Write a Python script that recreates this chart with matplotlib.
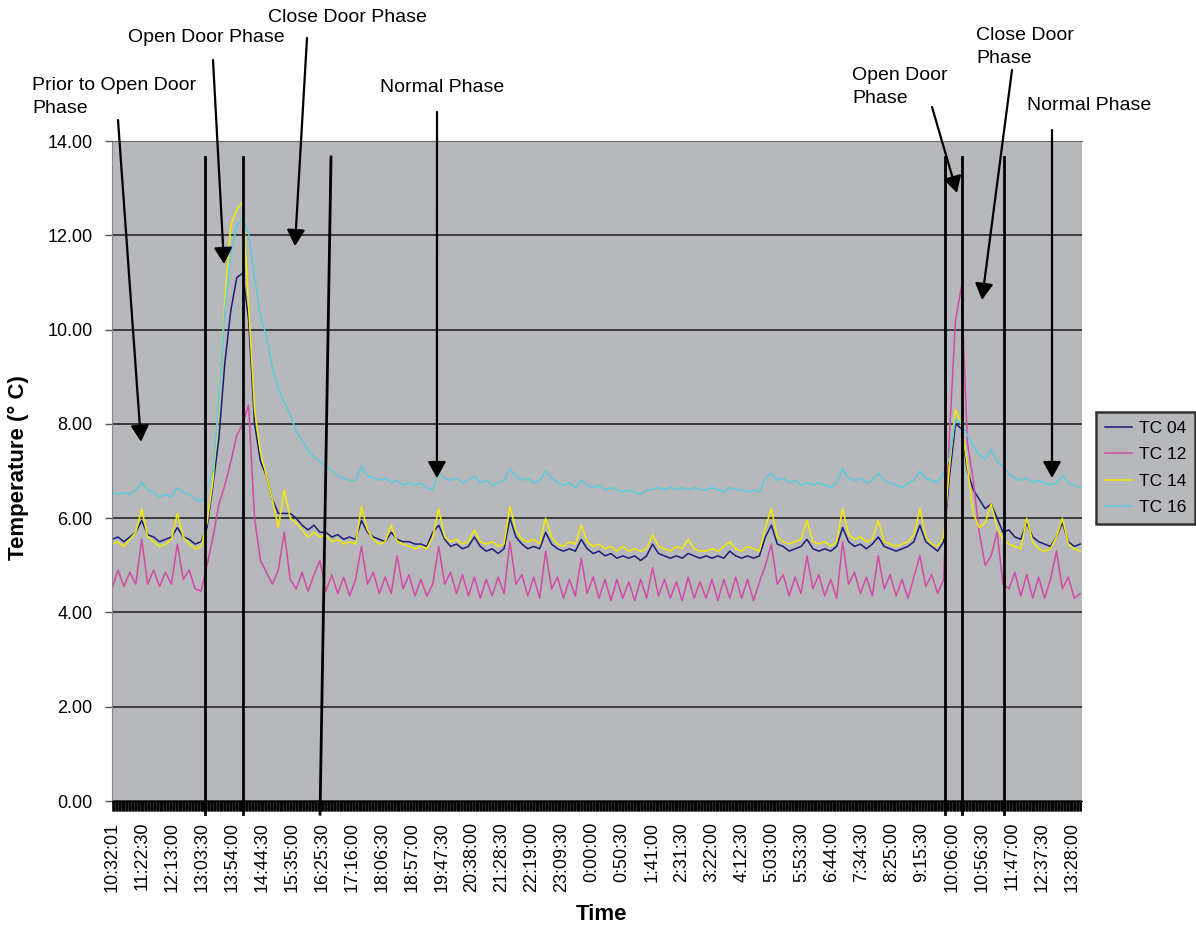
import numpy as np
import matplotlib.pyplot as plt
from matplotlib.ticker import MultipleLocator

plt.rcParams['font.family'] = ['Liberation Sans', 'DejaVu Sans']

# Data: temperature (deg C), one reading every 10 minutes from 10:32:01
step_min = 10

tc04 = [5.55, 5.6, 5.5, 5.6, 5.7, 5.95, 5.65, 5.6, 5.5, 5.55, 5.6, 5.8, 5.6, 5.55, 5.45, 5.5,
        5.8, 6.7, 7.7, 9.3, 10.4, 11.1, 11.2, 10.2, 8.0, 7.2, 6.9, 6.4, 6.1, 6.1, 6.1,
        6.0, 5.85, 5.75, 5.85, 5.7, 5.7, 5.6, 5.65, 5.55, 5.6, 5.55, 5.95, 5.7, 5.6, 5.55, 5.5,
        5.7, 5.55, 5.5, 5.5, 5.45, 5.45, 5.4, 5.7, 5.85,
        5.55, 5.4, 5.45, 5.35, 5.4, 5.6, 5.4, 5.3, 5.35, 5.25, 5.35, 6.0, 5.6, 5.45, 5.35, 5.4,
        5.35, 5.7, 5.45, 5.35, 5.3, 5.35, 5.3, 5.55, 5.35, 5.25, 5.3, 5.2, 5.25, 5.15, 5.2, 5.15,
        5.2, 5.1, 5.2, 5.45, 5.25, 5.2, 5.15, 5.2, 5.15, 5.25, 5.2, 5.15,
        5.2, 5.15, 5.2, 5.15, 5.3, 5.2, 5.15, 5.2, 5.15, 5.2, 5.6, 5.85, 5.45, 5.4, 5.3, 5.35,
        5.4, 5.55, 5.35, 5.3, 5.35, 5.3, 5.4, 5.8, 5.5, 5.4, 5.45, 5.35, 5.45, 5.6, 5.4, 5.35,
        5.3, 5.35, 5.4, 5.5, 5.85, 5.5, 5.4, 5.3,
        5.5, 6.9, 8.0, 7.9, 7.0, 6.6, 6.4, 6.2, 6.3, 6.0, 5.7, 5.75, 5.6, 5.55, 5.9, 5.6,
        5.5, 5.45, 5.4, 5.6, 5.9, 5.5, 5.4, 5.45]

tc12 = [4.5, 4.9, 4.55, 4.85, 4.6, 5.55, 4.6, 4.9, 4.55, 4.85, 4.6, 5.45, 4.7, 4.9, 4.5, 4.45,
        5.0, 5.6, 6.3, 6.7, 7.2, 7.75, 8.0, 8.4, 6.0, 5.1, 4.85, 4.6, 4.9, 5.7, 4.7,
        4.5, 4.85, 4.45, 4.8, 5.1, 4.45, 4.8, 4.4, 4.75, 4.35, 4.7, 5.4, 4.6, 4.85, 4.4, 4.75,
        4.4, 5.2, 4.5, 4.8, 4.35, 4.7, 4.35, 4.6, 5.4,
        4.6, 4.85, 4.4, 4.8, 4.35, 4.75, 4.3, 4.7, 4.35, 4.75, 4.4, 5.5, 4.6, 4.8, 4.35, 4.75,
        4.3, 5.3, 4.5, 4.75, 4.3, 4.7, 4.35, 5.15, 4.4, 4.75, 4.3, 4.7, 4.25, 4.7, 4.3, 4.65,
        4.25, 4.7, 4.3, 4.95, 4.35, 4.7, 4.3, 4.65, 4.25, 4.75, 4.3, 4.65,
        4.3, 4.7, 4.25, 4.7, 4.3, 4.75, 4.3, 4.7, 4.25, 4.65, 5.0, 5.45, 4.6, 4.8, 4.35, 4.75,
        4.4, 5.2, 4.5, 4.8, 4.35, 4.7, 4.3, 5.5, 4.6, 4.85, 4.4, 4.75, 4.35, 5.2, 4.5, 4.8,
        4.35, 4.7, 4.3, 4.75, 5.2, 4.55, 4.8, 4.4,
        4.7, 7.8, 10.2, 10.9, 7.6, 6.8, 5.7, 5.0, 5.2, 5.7, 4.6, 4.5, 4.85, 4.35, 4.8, 4.3,
        4.75, 4.3, 4.7, 5.3, 4.5, 4.75, 4.3, 4.4]

tc14 = [5.45, 5.5, 5.4, 5.55, 5.7, 6.2, 5.6, 5.5, 5.4, 5.45, 5.55, 6.1, 5.6, 5.45, 5.35, 5.4,
        5.9, 6.8, 8.4, 10.6, 12.2, 12.55, 12.7, 10.5, 8.3, 7.4, 6.9, 6.4, 5.8, 6.6, 6.0,
        5.9, 5.75, 5.6, 5.7, 5.6, 5.65, 5.5, 5.55, 5.45, 5.5, 5.45, 6.25, 5.75, 5.55, 5.45, 5.5,
        5.85, 5.5, 5.45, 5.4, 5.35, 5.4, 5.35, 5.6, 6.2,
        5.6, 5.5, 5.55, 5.45, 5.5, 5.75, 5.5, 5.45, 5.5, 5.4, 5.45, 6.25, 5.75, 5.55, 5.5, 5.55,
        5.45, 6.0, 5.6, 5.45, 5.4, 5.5, 5.45, 5.85, 5.5, 5.4, 5.45, 5.35, 5.4, 5.3, 5.4, 5.3,
        5.35, 5.3, 5.35, 5.65, 5.4, 5.35, 5.3, 5.4, 5.35, 5.55, 5.35, 5.3,
        5.3, 5.35, 5.3, 5.4, 5.5, 5.35, 5.3, 5.4, 5.35, 5.3, 5.8, 6.2, 5.6, 5.5, 5.45, 5.5,
        5.55, 5.95, 5.5, 5.45, 5.5, 5.4, 5.5, 6.2, 5.65, 5.55, 5.6, 5.5, 5.55, 5.95, 5.5, 5.45,
        5.4, 5.45, 5.5, 5.65, 6.2, 5.6, 5.45, 5.4,
        5.6, 7.1, 8.3, 8.0, 7.1, 6.1, 5.8, 5.9, 6.3, 5.8, 5.55, 5.45, 5.4, 5.35, 6.0, 5.5,
        5.35, 5.3, 5.35, 5.6, 6.0, 5.45, 5.35, 5.3]

tc16 = [6.55, 6.5, 6.55, 6.5, 6.6, 6.75, 6.6, 6.55, 6.45, 6.5, 6.45, 6.65, 6.55, 6.5, 6.4, 6.35,
        6.6, 7.0, 8.5, 10.4, 11.6, 12.2, 12.35, 12.05, 11.1, 10.3, 9.85, 9.2, 8.75, 8.45, 8.2,
        7.85, 7.65, 7.45, 7.3, 7.2, 7.1, 7.0, 6.9, 6.85, 6.8, 6.8, 7.1, 6.9, 6.85, 6.8, 6.85,
        6.75, 6.8, 6.7, 6.75, 6.7, 6.75, 6.65, 6.6, 6.95,
        6.85, 6.8, 6.85, 6.75, 6.8, 6.9, 6.75, 6.8, 6.7, 6.75, 6.8, 7.05, 6.9, 6.8, 6.85, 6.75,
        6.8, 7.0, 6.85, 6.75, 6.7, 6.75, 6.65, 6.8, 6.7, 6.65, 6.7, 6.6, 6.65, 6.6, 6.55, 6.6,
        6.55, 6.5, 6.6, 6.6, 6.65, 6.6, 6.65, 6.6, 6.65, 6.6, 6.65, 6.6,
        6.6, 6.65, 6.6, 6.55, 6.65, 6.6, 6.6, 6.55, 6.6, 6.55, 6.85, 6.95, 6.8, 6.85, 6.75, 6.8,
        6.7, 6.75, 6.7, 6.75, 6.7, 6.65, 6.75, 7.05, 6.85, 6.8, 6.85, 6.75, 6.8, 6.95, 6.8, 6.75,
        6.7, 6.65, 6.75, 6.8, 7.0, 6.85, 6.8, 6.75,
        6.95, 7.3, 8.1, 8.0, 7.75, 7.55, 7.35, 7.25, 7.45, 7.2, 7.1, 6.95, 6.85, 6.8, 6.85, 6.75,
        6.8, 6.75, 6.7, 6.75, 6.9, 6.75, 6.7, 6.65]

series_names = ['TC 04', 'TC 12', 'TC 14', 'TC 16']
series_colors = ['#1c1c7a', '#d24aa6', '#f2ea00', '#5ccbe0']

tick_labels = ['10:32:01', '11:22:30', '12:13:00', '13:03:30', '13:54:00', '14:44:30',
               '15:35:00', '16:25:30', '17:16:00', '18:06:30', '18:57:00', '19:47:30',
               '20:38:00', '21:28:30', '22:19:00', '23:09:30', '0:00:00', '0:50:30',
               '1:41:00', '2:31:30', '3:22:00', '4:12:30', '5:03:00', '5:53:30',
               '6:44:00', '7:34:30', '8:25:00', '9:15:30', '10:06:00', '10:56:30',
               '11:47:00', '12:37:30', '13:28:00']
tick_every = 50.5  # minutes between labelled categories

# phase divider lines (minutes from start), top / bottom ends
phase_top = [156.6, 220.5, 368.7, 1402.4, 1431.0, 1501.7]
phase_bottom = [156.6, 220.5, 350.2, 1402.4, 1431.0, 1501.7]

# annotations: text, text anchor (figure px from top-left), arrow tail (px), arrow head (data)
notes = [
    ('Prior to Open Door\nPhase', (32, 97), (118, 120), (48.8, 7.62)),
    ('Open Door Phase', (128, 37), (213, 60), (188.6, 11.39)),
    ('Close Door Phase', (268, 17), (307, 38), (308.0, 11.77)),
    ('Normal Phase', (380, 87), (437, 112), (547.0, 6.85)),
    ('Open Door\nPhase', (852, 87), (932, 107), (1422.6, 12.9)),
    ('Close Door\nPhase', (976, 47), (1012, 70), (1464.6, 10.63)),
    ('Normal Phase', (1027, 105), (1052, 130), (1582.5, 6.85)),
]

W, H = 1196, 926
fig = plt.figure(figsize=(W / 100, H / 100), dpi=100)
ax = fig.add_axes([112 / W, 1 - 801 / H, (1082 - 112) / W, (801 - 141) / H])
ax.set_facecolor('#b6b8bb')

for vals, name, col in zip([tc04, tc12, tc14, tc16], series_names, series_colors):
    t = np.arange(len(vals)) * step_min
    ax.plot(t, vals, color=col, lw=1.1, label=name)

ax.set_xlim(0, (1082 - 112) / 0.594)
ax.set_ylim(0, 14)
ax.set_yticks(np.arange(0, 14.01, 2))
ax.set_yticklabels(['%.2f' % v for v in np.arange(0, 14.01, 2)], fontsize=13)
ax.yaxis.grid(True, color='#1a1a1a', lw=1.1)
ax.set_axisbelow(True)

ax.set_xticks(np.arange(len(tick_labels)) * tick_every)
ax.set_xticklabels(tick_labels, rotation=90, fontsize=13, va='top', ha='center')
ax.xaxis.set_minor_locator(MultipleLocator(1))
ax.tick_params(axis='x', which='both', length=7, width=0.6, color='black', pad=8)
ax.tick_params(axis='y', length=5, width=1, color='#555555', pad=9)

ax.spines['right'].set_visible(False)
ax.spines['top'].set_color('#666666')
ax.spines['left'].set_color('#888888')
ax.spines['bottom'].set_color('black')

fig.text(18 / W, 1 - 468 / H, 'Temperature (° C)', fontsize=16, fontweight='bold',
         rotation=90, ha='center', va='center')
fig.text(602 / W, 1 - 915 / H, 'Time', fontsize=16, fontweight='bold',
         ha='center', va='center')

for xt, xb in zip(phase_top, phase_bottom):
    ax.plot([xt, xb], [13.66, -0.28], color='black', lw=2, clip_on=False, zorder=5)

for text, (tx, ty), (ax_, ay), head in notes:
    fig.text(tx / W, 1 - ty / H, text, fontsize=14, ha='left', va='center', linespacing=1.42)
    ax.annotate('', xy=head, xycoords='data', xytext=(ax_, H - ay), textcoords='figure pixels',
                arrowprops=dict(arrowstyle='-|>,head_length=0.45,head_width=0.25',
                                mutation_scale=22, lw=1.6, color='black',
                                shrinkA=0, shrinkB=0), annotation_clip=False, zorder=6)

leg = fig.legend(loc='upper left', bbox_to_anchor=(1096 / W, 1 - 412 / H), fontsize=12.5,
                 frameon=True, fancybox=False, shadow=False, handlelength=1.6,
                 labelspacing=0.65, borderpad=0.5, handletextpad=0.35, borderaxespad=0)
leg.get_frame().set_facecolor('#b6b8bb')
leg.get_frame().set_edgecolor('#333333')
leg.get_frame().set_linewidth(1.8)
leg.get_frame().set_alpha(1)

fig.savefig('out.png', dpi=100)
